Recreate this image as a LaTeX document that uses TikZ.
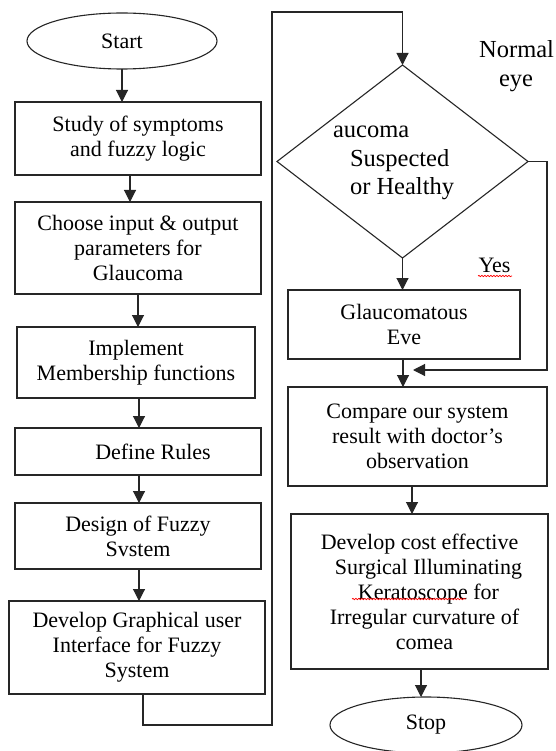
\documentclass[tikz,border=0pt]{standalone}
\usepackage{fontspec}
\setmainfont{Liberation Serif}
\usetikzlibrary{shapes.geometric,arrows.meta,decorations.pathmorphing}

\begin{document}
\begin{tikzpicture}[x=1pt,y=-1pt,
  every node/.style={inner sep=0pt, outer sep=0pt},
  txt/.style={font=\fontsize{22}{25}\selectfont},
  bigtxt/.style={font=\fontsize{24.5}{28.5}\selectfont},
  box/.style={txt, draw=black!85, line width=1.1pt, rectangle, align=center},
  term/.style={txt, draw=black!85, line width=1.1pt, ellipse},
  link/.style={draw=black!85, line width=1.1pt},
  arr/.style={link, -{Triangle[width=12pt,length=12pt]}},
  squiggle/.style={red, line width=0.7pt, decorate,
    decoration={snake, amplitude=0.7pt, segment length=3pt}}
]
\useasboundingbox (0,0) rectangle (555,751);
\fill[white] (0,0) rectangle (555,751);

% left column
\node[term, minimum width=190pt, minimum height=56pt] (start) at (122,41) {Start};
\node[box, minimum width=246pt, minimum height=73pt] (b1) at (138,138.5)
  {Study of symptoms\\and fuzzy logic};
\node[box, minimum width=246pt, minimum height=92pt] (b2) at (138,248)
  {Choose input \& output\\parameters for\\Glaucoma};
\node[box, minimum width=238pt, minimum height=71pt] (b3) at (136,362.5)
  {Implement\\Membership functions};
\node[box, minimum width=246pt, minimum height=47pt] (b4) at (138,451.5)
  {\hspace*{30pt}Define Rules};
\node[box, minimum width=246pt, minimum height=66pt] (b5) at (138,536)
  {Design of Fuzzy\\Svstem};
\node[box, minimum width=256pt, minimum height=93pt] (b6) at (137,647.5)
  {Develop Graphical user\\Interface for Fuzzy\\System};

% right column
\node[draw=black!85, line width=1.1pt, diamond, minimum width=251pt, minimum height=193pt]
  (dia) at (402.5,161.5) {};
\node[bigtxt, anchor=base west] (dq1) at (333,138) {aucoma};
\node[bigtxt, anchor=base west] (dq2) at (350,167) {Suspected};
\node[bigtxt, anchor=base west] (dq3) at (350,195) {or Healthy};

\node[bigtxt, anchor=base east] (ne1) at (554,58) {Normal};
\node[bigtxt, anchor=base] (ne2) at (516,87) {eye};

\node[txt, anchor=base] (yes) at (494.5,272) {Yes};
\draw[squiggle] (478,276) -- (512,276);

\node[box, minimum width=232pt, minimum height=69pt] (b7) at (404,324.5)
  {Glaucomatous\\Eve};
\node[box, minimum width=259pt, minimum height=99pt] (b8) at (417.5,436.5)
  {Compare our system\\result with doctor’s\\observation};
\node[box, minimum width=257pt, minimum height=155pt] (b9) at (419.5,591.5)
  {Develop cost effective\\\hspace*{18pt}Surgical Illuminating\\\hspace*{18pt}Keratoscope for\\\hspace*{10pt}Irregular curvature of\\\hspace*{10pt}comea};
\draw[squiggle] (352,599) -- (466,599);
\node[term, minimum width=192pt, minimum height=56pt] (stop) at (426,725) {Stop};

% connectors, left column
\draw[arr] (start.south) -- (start.south |- b1.north);
\draw[arr] ([xshift=-8pt]b1.south) -- ([xshift=-8pt]b1.south |- b2.north);
\draw[arr] (b2.south) -- (b2.south |- b3.north);
\draw[arr] ([xshift=1pt]b4.north |- b3.south) -- ([xshift=1pt]b4.north);
\draw[arr] ([xshift=1pt]b4.south) -- ([xshift=1pt]b4.south |- b5.north);
\draw[arr] ([xshift=1pt]b5.south) -- ([xshift=1pt]b5.south |- b6.north);

% loop over to the decision
\coordinate (turn) at (272,12);
\draw[arr] ([xshift=6pt]b6.south) -- ++(0,31) -| (turn) -| (dia.north);

% connectors, right column
\coordinate (join) at (413,370);
\draw[arr] (dia.south) -- (dia.south |- b7.north);
\draw[arr] ([xshift=-1pt]b7.south) -- ([xshift=-1pt]b7.south |- b8.north);
\draw[arr] (dia.east) -- ++(19,0) |- (join);
\draw[arr] ([xshift=-5.5pt]b8.south) -- ([xshift=-5.5pt]b8.south |- b9.north);
\draw[arr] ([xshift=1.5pt]b9.south) -- ([xshift=1.5pt]b9.south |- stop.north);
\end{tikzpicture}
\end{document}
